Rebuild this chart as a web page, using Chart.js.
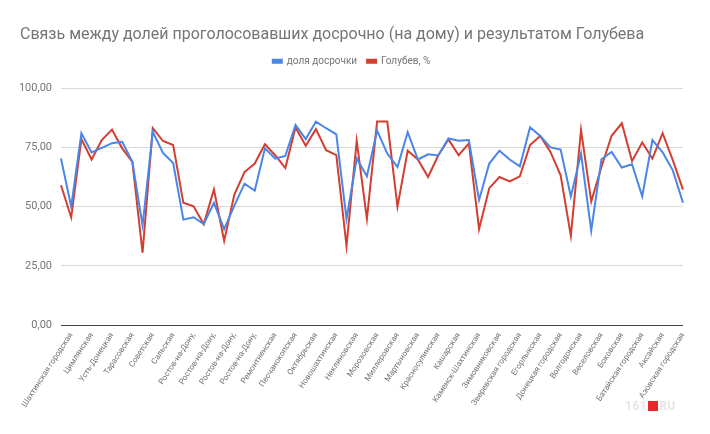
<!DOCTYPE html>
<html>
<head>
<meta charset="utf-8">
<script src="https://cdn.jsdelivr.net/npm/chart.js@4"></script>
<style>
    html, body { margin: 0; padding: 0; background: #fff; }
    #wrap { position: relative; width: 710px; height: 434px; }
    #mark { position: absolute; left: 625px; top: 399px; font: bold 12px Roboto, sans-serif; color: #e6e6e6; letter-spacing: 0.5px; }
    #mark span { display: inline-block; width: 10px; height: 10px; background: #e8262b; vertical-align: -1px; margin: 0 1px; }
</style>
</head>
<body>
<div id="wrap">
    <canvas id="chart" width="710" height="434"></canvas>
    <div id="mark">161<span></span>RU</div>
</div>
<script>
// districts, reverse alphabetical order (every second one is labelled)
const districts = [
    "Шолоховская", "Шахтинская городская", "Чертковская", "Цимлянская", "Целинская",
    "Усть-Донецкая", "Тацинская", "Тарасовская", "Таганрогская городская", "Советская",
    "Семикаракорская", "Сальская", "Родионово-Несветайская", "Ростов-на-Дону, Советская",
    "Ростов-на-Дону, Пролетарская", "Ростов-на-Дону, Первомайская", "Ростов-на-Дону, Октябрьская",
    "Ростов-на-Дону, Ленинская", "Ростов-на-Дону, Кировская", "Ростов-на-Дону, Железнодорожная",
    "Ростов-на-Дону, Ворошиловская", "Ремонтненская", "Пролетарская", "Песчанокопская",
    "Орловская", "Октябрьская", "Обливская", "Новошахтинская", "Новочеркасская городская",
    "Неклиновская", "Мясниковская", "Морозовская", "Милютинская", "Миллеровская",
    "Матвеево-Курганская", "Мартыновская", "Куйбышевская", "Красносулинская",
    "Константиновская", "Кашарская", "Каменская", "Каменск-Шахтинская", "Кагальницкая",
    "Зимовниковская", "Зерноградская", "Зверевская городская", "Заветинская", "Егорлыкская",
    "Дубовская", "Донецкая городская", "Гуковская городская", "Волгодонская",
    "Волгодонская городская", "Веселовская", "Верхнедонская", "Боковская", "Белокалитвинская",
    "Батайская городская", "Багаевская", "Аксайская", "Азовская", "Азовская городская"
];

// доля досрочки, %
const earlyShare = [
    70.3, 50, 81, 72.9, 74.8, 76.8, 77.4, 68.9, 42, 81.6,
    72.7, 68.4, 44.5, 45.5, 42.6, 51.6, 40.5, 50.4, 59.7, 56.8,
    74.6, 70.3, 71.4, 84.5, 78.5, 85.9, 83.1, 80.5, 44.8, 70.3,
    62.8, 82.1, 72.4, 66.7, 81.4, 69.9, 72.1, 71.6, 78.8, 77.8,
    78.1, 52.8, 68.2, 73.6, 69.9, 67, 83.5, 79.8, 75, 74.1,
    54.3, 72.4, 39.8, 70, 73.1, 66.5, 67.9, 54.3, 78.1, 72.9,
    65.3, 51.6
];

// Голубев, %
const golubev = [
    59, 45.4, 78.5, 69.9, 78.1, 82.5, 74.6, 68.9, 30.5, 83.1,
    77.7, 76, 51.6, 50.1, 42.6, 57.2, 35.5, 55.1, 64.6, 68.2,
    76.3, 71.7, 66.3, 83.4, 75.7, 82.7, 73.8, 71.7, 33.4, 77.8,
    44.8, 85.9, 85.9, 50, 73.6, 69.9, 62.5, 71.7, 78.4, 71.7,
    76.7, 40.5, 57.8, 62.5, 60.6, 62.8, 76, 79.8, 73.1, 63.2,
    37.6, 82.4, 52.1, 66.7, 79.9, 85.2, 69.2, 77.1, 70.3, 81,
    69.6, 57.2
];

const yTicks = [0, 25, 50, 75, 100];

const grey = "#757575";

// leave a gap between the legend and the plot
const legendGap = {
    id: "legendGap",
    beforeInit(chart) {
        const legend = chart.legend;
        const origFit = legend.fit;
        legend.fit = function () {
            origFit.call(this);
            this.height += 12;
        };
    }
};

const ctx = document.getElementById("chart").getContext("2d");
window.chart = new Chart(ctx, {
    type: "line",
    data: {
        labels: districts,
        datasets: [
            {
                label: "доля досрочки",
                data: earlyShare,
                borderColor: "#4a86e8",
                backgroundColor: "#4a86e8",
                borderWidth: 2,
                pointRadius: 0,
                tension: 0,
                fill: false
            },
            {
                label: "Голубев, %",
                data: golubev,
                borderColor: "#d23f31",
                backgroundColor: "#d23f31",
                borderWidth: 2,
                pointRadius: 0,
                tension: 0,
                fill: false
            }
        ]
    },
    options: {
        responsive: false,
        animation: false,
        layout: { padding: { left: 20, right: 27, top: 0, bottom: 0 } },
        plugins: {
            title: {
                display: true,
                text: "Связь между долей проголосовавших досрочно (на дому) и результатом Голубева",
                align: "start",
                color: grey,
                font: { family: "Roboto", size: 16, weight: "normal" },
                padding: { top: 25, bottom: 2 }
            },
            legend: {
                display: true,
                align: "center",
                labels: {
                    color: grey,
                    font: { family: "Roboto", size: 10 },
                    boxWidth: 9,
                    boxHeight: 3,
                    padding: 10
                }
            },
            tooltip: { enabled: false }
        },
        scales: {
            x: {
                offset: false,
                grid: { display: false, drawTicks: false },
                border: { display: false },
                afterFit(scale) { scale.height = 109; },
                ticks: {
                    autoSkip: false,
                    minRotation: 57,
                    maxRotation: 57,
                    padding: 6,
                    color: grey,
                    font: { family: "Roboto", size: 8 },
                    callback: function (value, index) {
                        if (index % 2 === 0) return "";
                        const lbl = this.getLabelForValue(value);
                        return lbl.indexOf(", ") > -1 ? lbl.split(", ")[0] + "," : lbl;
                    }
                }
            },
            y: {
                min: 0,
                max: 100,
                afterFit(scale) { scale.width = 41; },
                afterBuildTicks(scale) { scale.ticks = yTicks.map(v => ({ value: v })); },
                grid: {
                    drawTicks: false,
                    color: c => (c.tick && c.tick.value === 0 ? "#444" : "#d9d9d9"),
                    lineWidth: 1
                },
                border: { display: false },
                ticks: {
                    padding: 9,
                    color: grey,
                    font: { family: "Roboto", size: 11 },
                    callback: v => v.toFixed(2).replace(".", ",")
                }
            }
        }
    },
    plugins: [legendGap]
});
</script>
</body>
</html>
